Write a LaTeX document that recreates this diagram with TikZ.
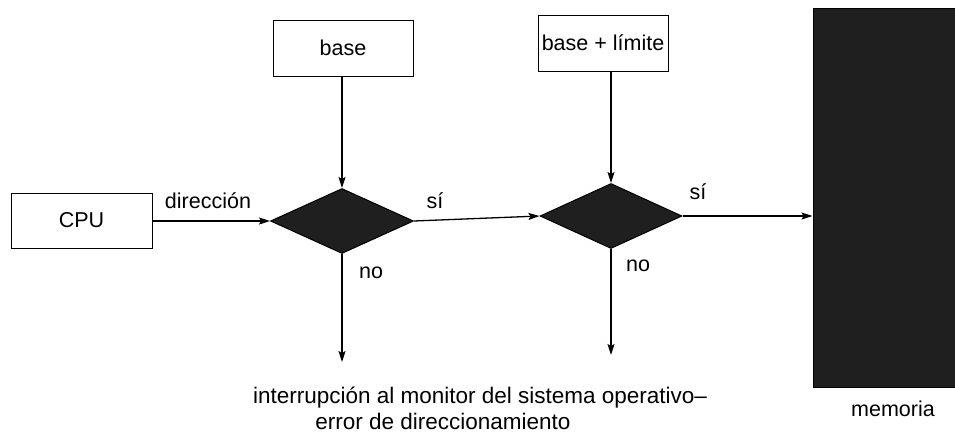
\documentclass[tikz,border=0pt]{standalone}
\usepackage{fontspec}
\setmainfont{Liberation Sans}
\usetikzlibrary{shapes.geometric,arrows.meta}
\begin{document}
\begin{tikzpicture}[x=1pt,y=-1pt,
  every node/.style={font=\fontsize{21.5}{24}\selectfont},
  box/.style={draw,line width=1pt,rectangle,inner sep=0pt},
  dec/.style={draw,fill=black!88,line width=1pt,diamond,inner sep=0pt},
  conn/.style={line width=1.3pt,-{Stealth[length=11pt,width=7pt,inset=2pt]}},
  lbl/.style={inner sep=0pt},
  bottomlbl/.style={inner sep=0pt,font=\fontsize{22.5}{24}\selectfont}]
\useasboundingbox (0,0) rectangle (955,437);
\node[box,minimum width=141pt,minimum height=55pt] (cpu) at (81.5,220.5) {CPU};
\node[box,minimum width=140pt,minimum height=56pt] (base) at (343,48) {base};
\node[box,minimum width=130pt,minimum height=56pt] (lim) at (603,43) {base + límite};
\node[dec,minimum width=143pt,minimum height=65pt] (d1) at (342,221) {};
\node[dec,minimum width=142pt,minimum height=65pt] (d2) at (611,216) {};
\node[draw,fill=black!88,line width=1pt,inner sep=0pt,minimum width=147pt,minimum height=379pt] (mem) at (886.5,197.5) {};
\coordinate (e1) at (342,362);
\coordinate (e2) at (611,355);
\draw[conn] (cpu.east |- d1.west) -- (d1.west);
\draw[conn] (base.south -| d1.north) -- (d1.north);
\draw[conn] (d1.east) -- (d2.west);
\draw[conn] (lim.south -| d2.north) -- (d2.north);
\draw[conn] (d2.east) -- (d2.east -| mem.west);
\draw[conn] (d1.south) -- (e1);
\draw[conn] (d2.south) -- (e2);
\node[lbl] (ldir) at (208,201) {dirección};
\node[lbl] (lsi1) at (435,201) {sí};
\node[lbl] (lno1) at (371,273) {no};
\node[lbl] (lno2) at (638,266) {no};
\node[lbl] (lsi2) at (698,192) {sí};
\node[lbl] (lmem) at (893,409) {memoria};
\node[bottomlbl] (lint1) at (480,398) {interrupción al monitor del sistema operativo–};
\node[bottomlbl] (lint2) at (443,421) {error de direccionamiento};
\end{tikzpicture}
\end{document}
